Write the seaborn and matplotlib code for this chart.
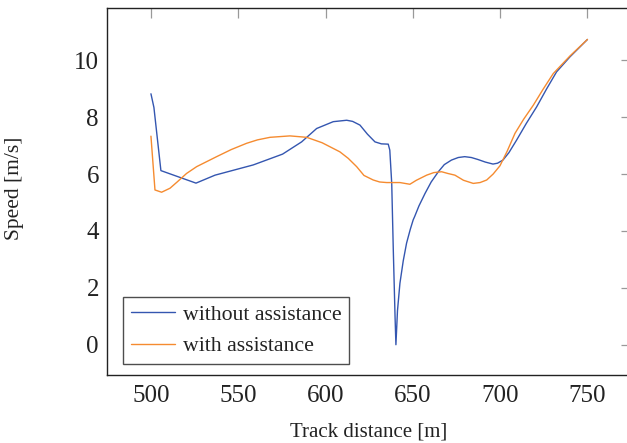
import matplotlib
matplotlib.use("Agg")
import matplotlib.pyplot as plt
import seaborn as sns
import pandas as pd

# without assistance
x_without = [500, 501.7, 505.7, 525.8, 536.7, 558.6, 575.4, 586.3, 594.9, 604.4,
             612.1, 615.5, 619.7, 624, 628.3, 632, 635.9, 636.8, 637.9, 638.8,
             639.8, 640.3, 641.2, 642.6, 644.5, 646.4, 648.5, 650.2, 651, 653.5,
             657, 660.5, 664.6, 668, 672.1, 676, 679.7, 683.5, 687.3, 691.5,
             695.9, 698.5, 701.6, 705, 709.4, 715, 720.9, 726.5, 732.3, 740, 750]
y_without = [8.82, 8.34, 6.12, 5.68, 5.96, 6.32, 6.70, 7.13, 7.60, 7.84,
             7.89, 7.85, 7.72, 7.40, 7.13, 7.06, 7.05, 6.84, 5.67, 3.33,
             1.0, 0.0, 1.2, 2.16, 2.95, 3.57, 4.05, 4.39, 4.5, 4.88,
             5.32, 5.72, 6.08, 6.33, 6.49, 6.58, 6.61, 6.58, 6.51, 6.42,
             6.35, 6.38, 6.49, 6.75, 7.19, 7.78, 8.36, 8.98, 9.59, 10.12, 10.73]

# with assistance
x_with = [500, 502.3, 506.1, 510.9, 515, 520.4, 526.2, 537.6, 546, 554.8,
          561, 568.2, 579.6, 589.2, 598, 608.2, 613, 617.8, 622, 627.3,
          631, 635, 642.6, 648.3, 652, 657.9, 662, 666.5, 670, 674.1,
          679, 684.6, 688.5, 692.3, 696, 699.9, 704, 708.5, 713.5, 719,
          724.5, 730.4, 740, 750]
y_with = [7.33, 5.44, 5.36, 5.50, 5.72, 6.02, 6.26, 6.61, 6.86, 7.08,
          7.20, 7.29, 7.34, 7.29, 7.10, 6.78, 6.55, 6.26, 5.95, 5.79,
          5.72, 5.70, 5.70, 5.64, 5.78, 5.96, 6.05, 6.08, 6.02, 5.96,
          5.78, 5.67, 5.70, 5.79, 6.00, 6.29, 6.80, 7.43, 7.93, 8.42,
          8.97, 9.53, 10.15, 10.73]

labels = ["without assistance", "with assistance"]
x_ticks = [500, 550, 600, 650, 700, 750]
y_ticks = [0, 2, 4, 6, 8, 10]

df = pd.concat([
    pd.DataFrame({"x": x_without, "y": y_without, "series": labels[0]}),
    pd.DataFrame({"x": x_with, "y": y_with, "series": labels[1]}),
], ignore_index=True)

sns.set_style("white")
plt.rcParams["font.family"] = ["Liberation Serif", "DejaVu Serif"]

fig = plt.figure(figsize=(6.27, 4.43), dpi=100)
ax = fig.add_axes([107.3 / 627, (443 - 375.3) / 443, 523.8 / 627, 367 / 443])

palette = {labels[0]: "#3456b0", labels[1]: "#f58b30"}
sns.lineplot(data=df, x="x", y="y", hue="series", palette=palette,
             estimator=None, sort=False, linewidth=1.0, ax=ax)

ax.set_xlim(475, 775)
ax.set_ylim(-1.075, 11.825)
ax.set_xticks(x_ticks)
ax.set_yticks(y_ticks)
ax.tick_params(axis="both", which="major", direction="in", length=7,
               width=0.9, color="#999999", labelsize=18, labelcolor="#222222",
               top=True, right=True)
ax.tick_params(axis="y", pad=6)
ax.tick_params(axis="x", pad=7)
for s in ax.spines.values():
    s.set_color("#222222")
    s.set_linewidth(1.0)

ax.set_xlabel("Track distance [m]", fontsize=15, color="#222222", va="center")
ax.set_ylabel("Speed [m/s]", fontsize=15.5, color="#222222", va="center")
ax.xaxis.set_label_coords((369 - 107.3) / 523.8, (375.3 - 432) / 367)
ax.yaxis.set_label_coords((15 - 107.3) / 523.8, (375.3 - 188) / 367)

leg = ax.legend(loc="lower left", bbox_to_anchor=(0.0305, 0.031), fontsize=15.7,
                frameon=True, fancybox=False, edgecolor="#222222",
                handlelength=2.0, borderpad=0.35, labelspacing=0.5,
                handletextpad=0.4, borderaxespad=0)
leg.get_frame().set_linewidth(1.0)
for t in leg.get_texts():
    t.set_color("#222222")

fig.savefig("out.png", dpi=100)
